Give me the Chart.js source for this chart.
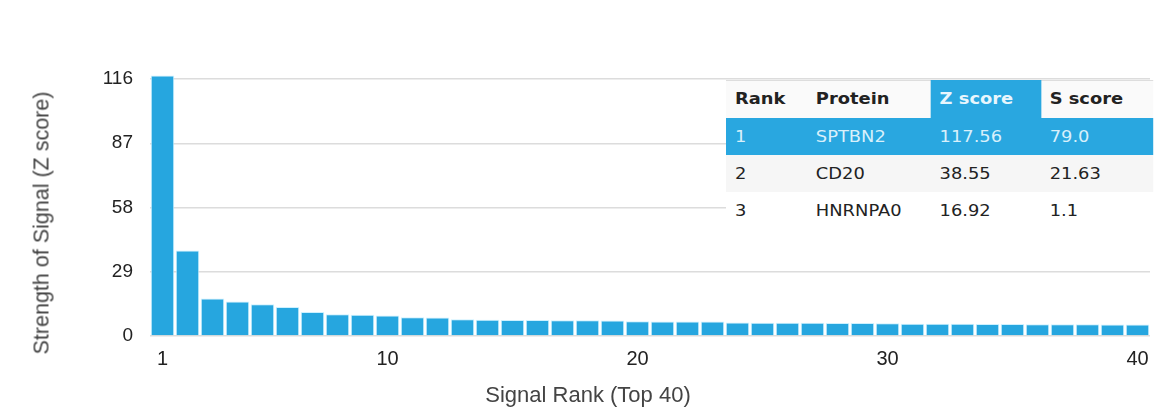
<!DOCTYPE html>
<html>
<head>
<meta charset="utf-8">
<script src="https://cdn.jsdelivr.net/npm/chart.js@4/dist/chart.umd.min.js"></script>
<style>
  html, body { margin: 0; padding: 0; background: #fff; }
  #wrap { position: relative; width: 1160px; height: 412px; overflow: hidden; }
  #c { position: absolute; left: 0; top: 0; }
  #tbl { position: absolute; left: 726px; top: 80px; width: 359px; border-collapse: separate;
         border-spacing: 0; table-layout: fixed; border: none;
         transform: scaleX(1.19); transform-origin: 0 0;
         font-family: "DejaVu Sans", sans-serif; font-size: 15px; color: #222;
         background: linear-gradient(to bottom,
            #dddddd 0px, #dddddd 1px,
            #fafafa 1px, #fafafa 38px,
            #29a7e0 38px, #29a7e0 75px,
            #f6f6f6 75px, #f6f6f6 112px,
            #ffffff 112px, #ffffff 150px); }
  #tbl th, #tbl td { text-align: left; padding: 0 0 0 7.5px; height: 37px; white-space: nowrap; border: none; background: transparent; }
  #tbl th { font-weight: bold; height: 38px; }
  #tbl th.hl { background: #29a7e0; color: #e8f6fd; }
  #tbl tr.sel td { color: #d8f0fb; }
  .axt { position: absolute; font-family: "Liberation Sans", sans-serif; color: #444; white-space: nowrap; }
  #xt { font-size: 22px; left: 588px; top: 395px; transform: translate(-50%, -50%); }
  #yt { font-size: 21.5px; left: 42px; top: 223px; transform: translate(-50%, -50%) rotate(-90deg); }
</style>
</head>
<body>
<div id="wrap">
  <canvas id="c" width="1160" height="412"></canvas>
  <table id="tbl"></table>
  <div class="axt" id="xt"></div>
  <div class="axt" id="yt"></div>
</div>
<script>
const ranks = Array.from({length: 40}, (_, i) => String(i + 1));
const zScores = [117.56, 38.55, 16.92, 15.6, 14.3, 13.1, 10.8, 9.8, 9.6, 9.3,
                 8.5, 8.4, 7.6, 7.3, 7.2, 7.2, 7.1, 7.1, 7.0, 6.7,
                 6.6, 6.5, 6.5, 6.1, 6.0, 6.0, 6.0, 5.9, 5.9, 5.8,
                 5.5, 5.5, 5.5, 5.4, 5.4, 5.3, 5.3, 5.3, 5.2, 5.2];
const yTicks = [0, 29, 58, 87, 116];
const xTickLabels = ["1", "10", "20", "30", "40"];
const xTitle = "Signal Rank (Top 40)";
const yTitle = "Strength of Signal (Z score)";
const tableHeader = ["Rank", "Protein", "Z score", "S score"];
const tableRanks = ["1", "2", "3"];
const tableProteins = ["SPTBN2", "CD20", "HNRNPA0"];
const tableZ = ["117.56", "38.55", "16.92"];
const tableS = ["79.0", "21.63", "1.1"];

document.getElementById('xt').textContent = xTitle;
document.getElementById('yt').textContent = yTitle;

// table
const tbl = document.getElementById('tbl');
const colW = [68, 104, 92.5, 94.5];
let html = '<colgroup>' + colW.map(w => `<col style="width:${w}px">`).join('') + '</colgroup>';
html += '<tr>' + tableHeader.map((h, i) =>
  `<th class="${i === 2 ? 'hl' : ''}">${h}</th>`).join('') + '</tr>';
tableRanks.forEach((r, i) => {
  const cls = i === 0 ? 'sel' : '';
  html += `<tr class="${cls}"><td>${r}</td><td>${tableProteins[i]}</td><td>${tableZ[i]}</td><td>${tableS[i]}</td></tr>`;
});
tbl.innerHTML = html;

new Chart(document.getElementById('c'), {
  type: 'bar',
  data: {
    labels: ranks,
    datasets: [{
      data: zScores,
      backgroundColor: '#26a6df',
      borderColor: 'rgba(200,240,255,0.9)',
      borderWidth: 1,
      barPercentage: 0.94,
      categoryPercentage: 1.0,
      clip: false
    }]
  },
  options: {
    responsive: false,
    animation: false,
    layout: { padding: { left: 0, right: 10, top: 79, bottom: 0 } },
    plugins: { legend: { display: false }, tooltip: { enabled: false } },
    scales: {
      x: {
        grid: { display: false },
        border: { display: false },
        ticks: {
          autoSkip: false, maxRotation: 0, color: '#222', padding: 3,
          font: { family: 'Liberation Sans', size: 20 },
          callback: function(v) { const l = this.getLabelForValue(v); return xTickLabels.includes(l) ? l : ''; }
        },
        title: { display: false },
        afterFit: s => { s.height = 76; }
      },
      y: {
        min: 0, max: 116,
        afterBuildTicks: s => { s.ticks = yTicks.map(v => ({ value: v })); },
        grid: { color: '#dcdcdc', drawTicks: false, lineWidth: 1.5 },
        border: { display: false },
        ticks: { color: '#222', padding: 17, font: { family: 'Liberation Sans', size: 19 } },
        title: { display: false },
        afterFit: s => { s.width = 150; }
      }
    }
  }
});
</script>
</body>
</html>
